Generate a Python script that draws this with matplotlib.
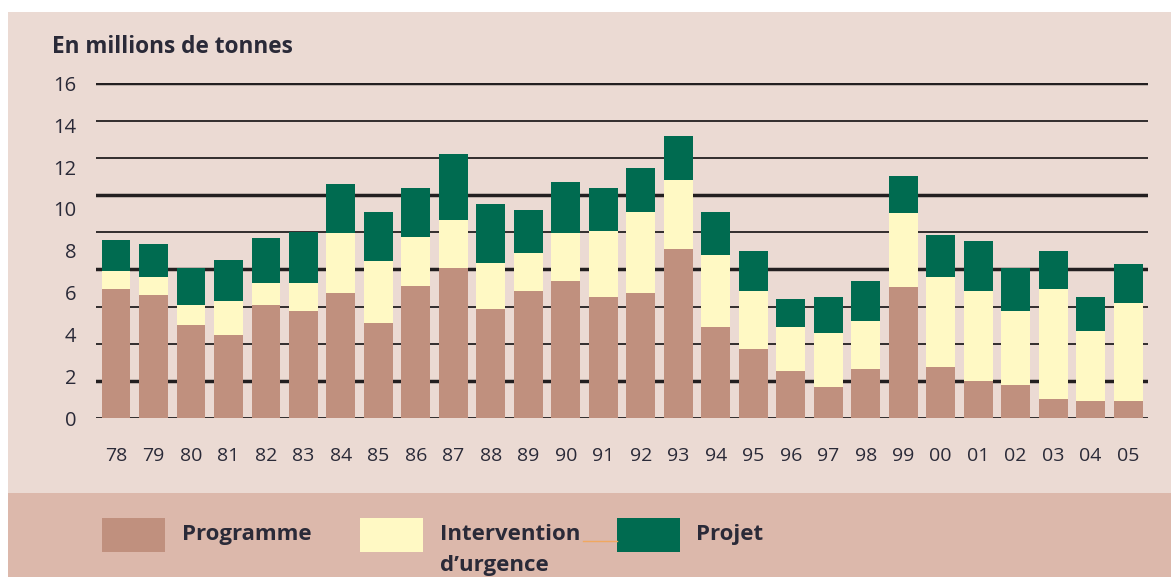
import matplotlib
matplotlib.use("Agg")
import matplotlib.pyplot as plt
from matplotlib.patches import Rectangle
import numpy as np

# values, millions of tonnes
years = ['78', '79', '80', '81', '82', '83', '84', '85', '86', '87', '88', '89', '90', '91',
         '92', '93', '94', '95', '96', '97', '98', '99', '00', '01', '02', '03', '04', '05']
programme = [6.16, 5.87, 4.44, 3.96, 5.40, 5.11, 5.97, 4.54, 6.33, 7.19, 5.21, 6.06, 6.54, 5.78,
             5.97, 8.07, 4.35, 3.30, 2.24, 1.48, 2.34, 6.26, 2.44, 1.77, 1.58, 0.91, 0.81, 0.81]
urgence = [0.86, 0.86, 0.96, 1.63, 1.05, 1.34, 2.86, 2.96, 2.31, 2.29, 2.19, 1.82, 2.29, 3.15,
           3.90, 3.32, 3.43, 2.76, 2.11, 2.58, 2.29, 3.53, 4.29, 4.29, 3.53, 5.25, 3.34, 4.68]
projet = [1.51, 1.61, 1.79, 1.98, 2.17, 2.46, 2.37, 2.37, 2.37, 3.16, 2.85, 2.08, 2.47, 2.08,
          2.10, 2.11, 2.09, 1.92, 1.33, 1.72, 1.91, 1.80, 2.01, 2.39, 2.08, 1.82, 1.63, 1.89]
yticks = [0, 2, 4, 6, 8, 10, 12, 14, 16]
labels = ['Programme', 'Intervention\nd\u2019urgence', 'Projet']

c_prog = '#C0907E'
c_urg = '#FFF9C4'
c_proj = '#006B50'
bg = '#EBDAD3'
band = '#DCB8AB'
ink = '#2A2A38'

plt.rcParams['font.family'] = ['Open Sans', 'DejaVu Sans']

W, H = 1171, 577
fig = plt.figure(figsize=(W / 100, H / 100), dpi=100)
fig.patch.set_facecolor('white')
fig.patches.append(Rectangle((8 / W, 0), 1, 1 - 12 / H, transform=fig.transFigure,
                             facecolor=bg, edgecolor='none', zorder=-10))
fig.patches.append(Rectangle((8 / W, 0), 1, 1 - 493 / H, transform=fig.transFigure,
                             facecolor=band, edgecolor='none', zorder=-9))

ax = fig.add_axes([96 / W, 1 - 418.3 / H, (1148 - 96) / W, (418.3 - 83.3) / H])
ax.set_facecolor('none')

x = np.arange(len(years))
p = np.array(programme)
u = np.array(urgence)
ax.bar(x, p, width=0.77, color=c_prog, zorder=3)
ax.bar(x, u, bottom=p, width=0.77, color=c_urg, zorder=3)
ax.bar(x, projet, bottom=p + u, width=0.77, color=c_proj, zorder=3)

# gridlines: 9 intervals over the label range, heavy ones at a few levels
heavy = [1, 4, 6, 9]
for k in range(10):
    ax.axhline(16 * k / 9, color='#231F20', lw=2.5 if k in heavy else 1.3, zorder=1)

ax.set_xlim(-0.534, 27.53)
ax.set_ylim(0, 16)
ax.set_xticks(x)
ax.set_xticklabels(years, fontweight='medium')
ax.set_yticks(yticks)
ax.set_yticklabels([str(t) for t in yticks], fontweight='medium')
ax.tick_params(axis='x', length=0, pad=21, labelsize=14, labelcolor=ink)
ax.tick_params(axis='y', length=0, pad=14, labelsize=14.5, labelcolor=ink)
for s in ax.spines.values():
    s.set_visible(False)

fig.text(52 / W, 1 - 47 / H, 'En millions de tonnes', fontsize=16.3, fontweight='bold',
         color=ink, va='center', ha='left')

# legend
cols = [c_prog, c_urg, c_proj]
patch_x = [102, 360, 617]
text_x = [182, 440, 696]
fig.lines.append(plt.Line2D([583 / W, 617 / W], [1 - 541 / H, 1 - 541 / H],
                            transform=fig.transFigure, color='#F0A860', lw=1))
for c, px, tx, lab in zip(cols, patch_x, text_x, labels):
    fig.patches.append(Rectangle((px / W, 1 - 552 / H), 63 / W, 34 / H, transform=fig.transFigure,
                                 facecolor=c, edgecolor='none'))
    fig.text(tx / W, 1 - 524 / H, lab, fontsize=16, fontweight='bold', color=ink,
             va='top', ha='left', linespacing=1.6)

fig.savefig('out.png', dpi=100, facecolor=fig.get_facecolor())
